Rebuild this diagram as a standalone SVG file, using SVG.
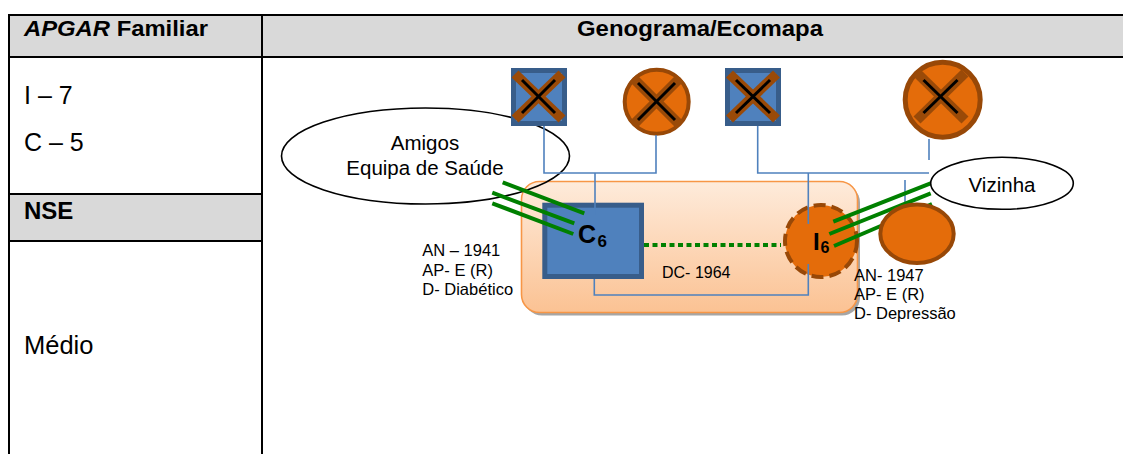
<svg xmlns="http://www.w3.org/2000/svg" width="1123" height="454" viewBox="0 0 1123 454">
<style>
.t{font-family:"Liberation Sans",Arial,sans-serif;fill:#000}
.b{font-weight:bold}
.tl{stroke:#000;stroke-width:2;fill:none}
.hd{fill:#D9D9D9}
.bl{stroke:#4F81BD;stroke-width:1.6;fill:none}
.gr{stroke:#008000;stroke-width:4;fill:none}
.sq{fill:#4F81BD;stroke:#385D8A;stroke-width:5}
.fem{fill:#E46C0A;stroke:#984807;stroke-width:4}
.xb{stroke:#9A4A08;stroke-width:10;stroke-linecap:butt}
.xk{stroke:#000;stroke-width:3}
.oval{fill:none;stroke:#000;stroke-width:1.6}
</style>
<defs>
<linearGradient id="hh" x1="0" y1="0" x2="0" y2="1">
<stop offset="0" stop-color="#FEEBDB"/>
<stop offset="1" stop-color="#FBC293"/>
</linearGradient>
</defs>
<g id="table">
<rect x="9" y="15" width="1120" height="42" class="hd"/>
<rect x="9" y="194" width="253" height="47" class="hd"/>
<line x1="8" y1="15" x2="1123" y2="15" class="tl"/>
<line x1="8" y1="57" x2="1123" y2="57" class="tl"/>
<line x1="9" y1="14" x2="9" y2="454" class="tl"/>
<line x1="262" y1="14" x2="262" y2="454" class="tl"/>
<line x1="9" y1="194" x2="262" y2="194" class="tl"/>
<line x1="9" y1="241" x2="262" y2="241" class="tl"/>
<text x="24" y="36" class="t b" font-size="22" textLength="184" lengthAdjust="spacingAndGlyphs"><tspan font-style="italic">APGAR</tspan> Familiar</text>
<text x="577" y="36" class="t b" font-size="22" textLength="246" lengthAdjust="spacingAndGlyphs">Genograma/Ecomapa</text>
<text x="24" y="104" class="t" font-size="25">I – 7</text>
<text x="24" y="151" class="t" font-size="25">C – 5</text>
<text x="24" y="219" class="t b" font-size="24">NSE</text>
<text x="24" y="354" class="t" font-size="25.5">Médio</text>
</g>
<g id="household">
<rect x="524" y="184.5" width="336" height="131" rx="18" fill="#A6A6A6"/>
<rect x="521.5" y="181.5" width="336" height="131" rx="18" fill="url(#hh)" stroke="#F79646" stroke-width="1.6"/>
</g>
<g id="amigos">
<ellipse cx="425.5" cy="156" rx="144" ry="48" class="oval"/>
<text x="425" y="150" class="t" font-size="20.5" text-anchor="middle">Amigos</text>
<text x="425" y="174.5" class="t" font-size="20.5" text-anchor="middle">Equipa de Saúde</text>
</g>
<g id="grandfather-c">
<rect x="513.5" y="70.5" width="51" height="53" class="sq"/>
<line x1="515" y1="74" x2="562" y2="119" class="xb"/>
<line x1="562" y1="74" x2="515" y2="119" class="xb"/>
<line x1="522" y1="80" x2="555" y2="113" class="xk"/>
<line x1="555" y1="80" x2="522" y2="113" class="xk"/>
</g>
<g id="grandmother-c">
<circle cx="656.7" cy="101.7" r="32" class="fem"/>
<line x1="633" y1="78" x2="680" y2="125" class="xb"/>
<line x1="680" y1="78" x2="633" y2="125" class="xb"/>
<line x1="638" y1="83" x2="675" y2="120" class="xk"/>
<line x1="675" y1="83" x2="638" y2="120" class="xk"/>
</g>
<g id="grandfather-i">
<rect x="727.5" y="70.5" width="51" height="53" class="sq"/>
<line x1="729.5" y1="74" x2="776.5" y2="119" class="xb"/>
<line x1="776.5" y1="74" x2="729.5" y2="119" class="xb"/>
<line x1="736" y1="80" x2="770" y2="113" class="xk"/>
<line x1="770" y1="80" x2="736" y2="113" class="xk"/>
</g>
<g id="grandmother-i">
<circle cx="942.7" cy="99.7" r="37.5" fill="#E46C0A" stroke="#984807" stroke-width="5"/>
<line x1="917" y1="73" x2="965" y2="120" class="xb"/>
<line x1="965" y1="73" x2="917" y2="120" class="xb"/>
<line x1="923.5" y1="80" x2="957.5" y2="113" class="xk"/>
<line x1="957.5" y1="80" x2="923.5" y2="113" class="xk"/>
</g>
<g id="c6">
<rect x="544.8" y="205.2" width="96.7" height="71.3" class="sq"/>
</g>
<g id="i6">
<circle cx="821" cy="241" r="36" fill="#E46C0A" stroke="#984807" stroke-width="4" stroke-dasharray="12 6"/>
</g>
<g id="connectors">
<polyline points="544,126 544,173 656,173 656,135" class="bl"/>
<line x1="595" y1="173" x2="595" y2="215" class="bl"/>
<polyline points="757.7,126 757.7,173 929,173" class="bl"/>
<line x1="929" y1="139" x2="929" y2="160" class="bl"/>
<line x1="808.3" y1="173" x2="808.3" y2="224" class="bl"/>
<polyline points="594.3,279 594.3,295 808.3,295 808.3,264" class="bl"/>
<line x1="905" y1="180" x2="905" y2="203" class="bl"/>
<line x1="644" y1="245" x2="781" y2="245" stroke="#008000" stroke-width="4" stroke-dasharray="5 3.5"/>
<line x1="502.7" y1="182.3" x2="584.3" y2="213.3" class="gr"/>
<line x1="492.3" y1="192.7" x2="574.3" y2="223.3" class="gr"/>
<line x1="492.3" y1="203.3" x2="573.3" y2="234" class="gr"/>
<line x1="833.3" y1="221.7" x2="935" y2="181.7" class="gr"/>
<line x1="829.3" y1="234" x2="930.7" y2="193.3" class="gr"/>
<line x1="834" y1="246" x2="932" y2="204" class="gr"/>
</g>
<g id="c6-label">
<text x="578" y="243.3" class="t b" font-size="25">C</text>
<text x="597.5" y="247.3" class="t b" font-size="17">6</text>
</g>
<g id="i6-label">
<text x="813" y="250" class="t b" font-size="24">I</text>
<text x="820.5" y="253.3" class="t b" font-size="16">6</text>
</g>
<g id="sibling-i">
<ellipse cx="917" cy="233.7" rx="36.7" ry="29.3" fill="#E46C0A" stroke="#984807" stroke-width="4"/>
</g>
<g id="vizinha">
<ellipse cx="1002" cy="183.3" rx="71.3" ry="26" fill="#fff" stroke="#000" stroke-width="1.6"/>
<text x="1002" y="191.7" class="t" font-size="20.5" text-anchor="middle">Vizinha</text>
</g>
<g id="labels">
<text x="662" y="277.7" class="t" font-size="16">DC- 1964</text>
<text class="t" font-size="16.5"><tspan x="422.3" y="256">AN – 1941</tspan><tspan x="422.3" y="276">AP- E (R)</tspan><tspan x="422.3" y="295">D- Diabético</tspan></text>
<text class="t" font-size="16.5"><tspan x="854" y="281">AN- 1947</tspan><tspan x="854" y="300">AP- E (R)</tspan><tspan x="854" y="318.5">D- Depressão</tspan></text>
</g>
</svg>
